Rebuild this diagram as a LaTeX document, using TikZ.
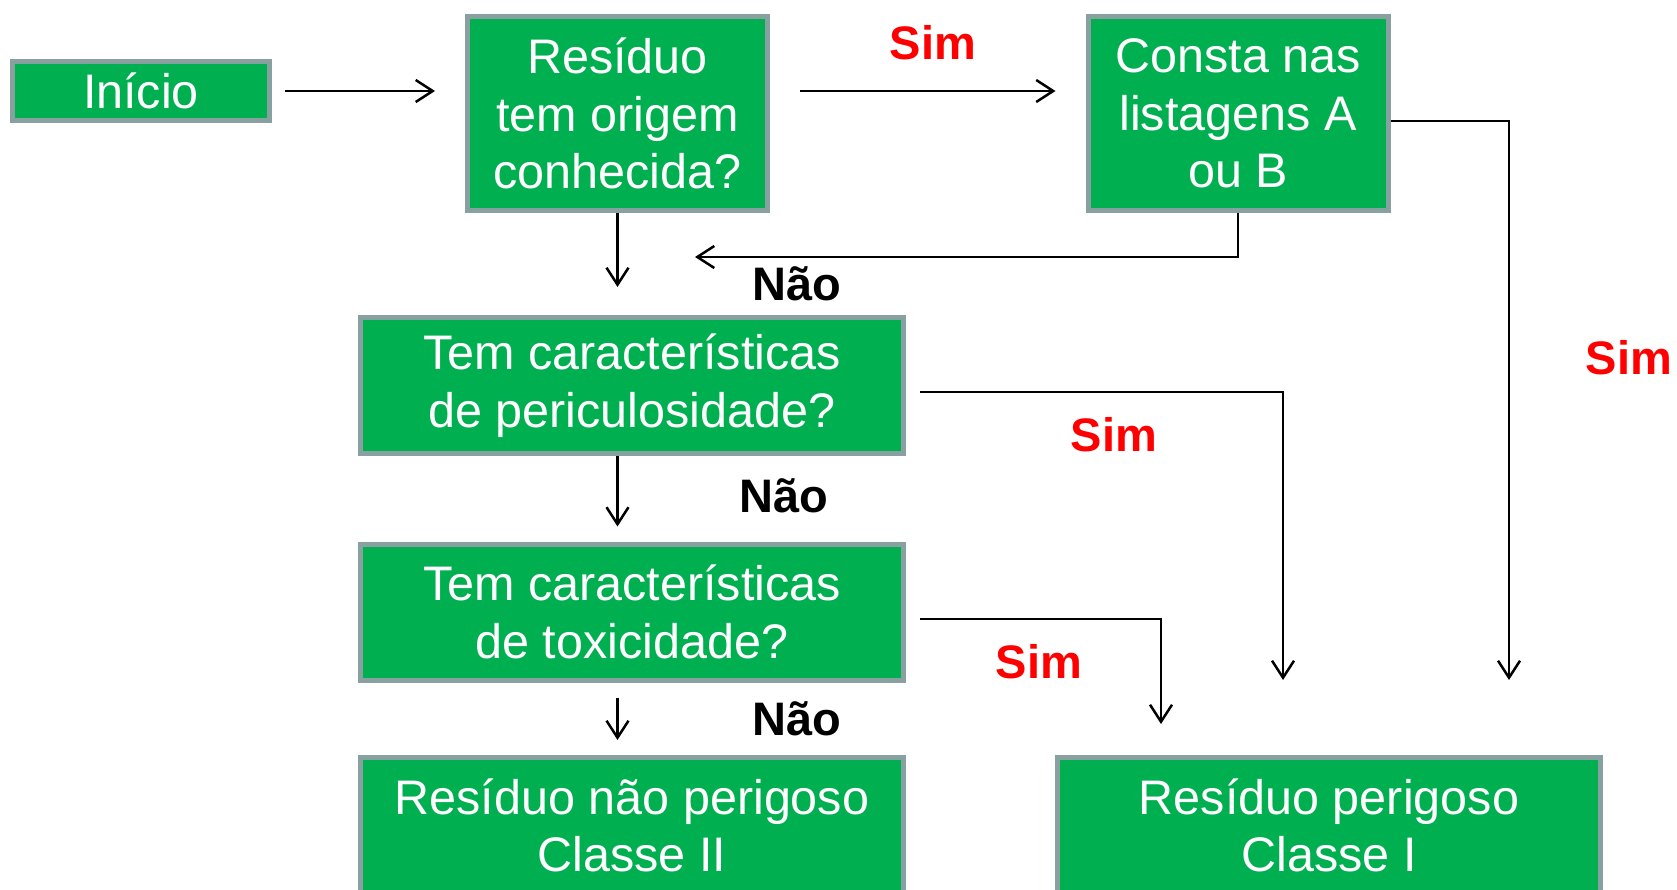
\documentclass[tikz,border=0pt]{standalone}
\usepackage{fontspec}
\setmainfont{Liberation Sans}
\usetikzlibrary{arrows.meta}
\definecolor{boxgreen}{RGB}{0,176,80}
\definecolor{boxgray}{RGB}{137,160,161}
\tikzstyle{greenbox} = [draw=boxgray, fill=boxgreen, line width=5pt, text=white,
    rectangle, inner sep=0pt, align=center, font=\fontsize{48.5}{57.5}\selectfont]
\tikzstyle{seta} = [line width=2.5pt, -{Straight Barb[length=17pt,width=22pt]}]
\tikzstyle{simlabel} = [text=red, font=\fontsize{47}{57}\selectfont\bfseries]
\tikzstyle{naolabel} = [text=black, font=\fontsize{47}{57}\selectfont\bfseries]

\begin{document}
\begin{tikzpicture}[x=1pt, y=-1pt]
    \useasboundingbox (0,0) rectangle (1677,890);
    \clip (0,0) rectangle (1677,890);
    \node [greenbox, minimum width=257pt, minimum height=59pt] (box1) at (141,91) {Início};
    \node [greenbox, minimum width=300pt, minimum height=194pt] (box2) at (617.5,113.5) {Resíduo\\tem origem\\conhecida?};
    \node [greenbox, minimum width=300pt, minimum height=194pt] (box3) at (1238,113.5) {Consta nas\\listagens A\\ou B};
    \node [greenbox, minimum width=543pt, minimum height=136pt] (box4) at (632,385.5) {Tem características\\de periculosidade?};
    \node [greenbox, minimum width=543pt, minimum height=136pt] (box5) at (632,612) {Tem características\\de toxicidade?};
    \node [greenbox, minimum width=543pt, minimum height=136pt] (box6) at (632,825.5) {Resíduo não perigoso\\Classe II};
    \node [greenbox, minimum width=543pt, minimum height=136pt] (box7) at (1329,825.5) {Resíduo perigoso\\Classe I};

    \coordinate (c1) at (695,257);
    \coordinate (c2) at (1509,680);
    \coordinate (c3) at (1283,680);
    \coordinate (c4) at (1161,724);

    \draw [seta, shorten <=13pt, shorten >=30pt] (box1.east) -- (box1.east -| box2.west);
    \draw [seta, shorten <=30pt, shorten >=30pt] (box2.east |- box1.east) -- (box3.west |- box1.east);
    \draw [seta, shorten >=28pt] (box2.south) -- (box2.south |- box4.north);
    \draw [seta] (box3.south) |- (c1);
    \draw [seta] ([yshift=-7.5pt]box3.east) -| (c2);
    \draw [seta, shorten <=14pt] ([yshift=-6.5pt]box4.east) -| (c3);
    \draw [seta, shorten >=15pt] (box4.south -| box2.south) -- (box5.north -| box2.south);
    \draw [seta, shorten <=14pt] ([yshift=-7pt]box5.east) -| (c4);
    \draw [seta, shorten <=15pt, shorten >=15pt] (box5.south -| box2.south) -- (box6.north -| box2.south);

    \node [simlabel] (sim1) at (933,43) {Sim};
    \node [simlabel] (sim2) at (1629,358) {Sim};
    \node [simlabel] (sim3) at (1114,435) {Sim};
    \node [simlabel] (sim4) at (1039,662) {Sim};
    \node [naolabel] (nao1) at (797,284) {Não};
    \node [naolabel] (nao2) at (784,496) {Não};
    \node [naolabel] (nao3) at (797,719) {Não};
\end{tikzpicture}
\end{document}
